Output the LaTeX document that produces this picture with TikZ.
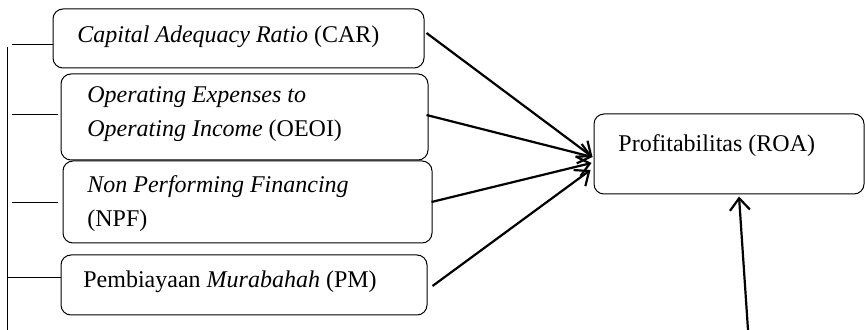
\documentclass[tikz,border=0pt]{standalone}
\usepackage{fontspec}
\setmainfont{Liberation Serif}
\usetikzlibrary{arrows.meta,calc}
\begin{document}
\begin{tikzpicture}[x=0.5pt,y=-0.5pt,
  box/.style={draw,rounded corners=5pt,line width=0.5pt,inner sep=0pt},
  lbl/.style={anchor=base west,inner sep=0pt,align=left,font=\fontsize{12}{17}\selectfont},
  link/.style={line width=0.5pt},
  arr/.style={line width=1.1pt,-{Straight Barb[length=6pt,width=10pt]}}]
\useasboundingbox (0,0) rectangle (865,330);
% boxes
\node[box,minimum width=185.5pt,minimum height=29.5pt] (car) at (238.5,38.5) {};
\node[box,minimum width=183.5pt,minimum height=43pt] (oeoi) at (244.5,117) {};
\node[box,minimum width=184.5pt,minimum height=41pt] (npf) at (247.5,202) {};
\node[box,minimum width=183pt,minimum height=30pt] (pm) at (244,285) {};
\node[box,minimum width=135pt,minimum height=40pt] (roa) at (729,154) {};
% texts
\node[lbl] (tcar) at (77,43) {\textit{Capital Adequacy Ratio} (CAR)};
\node[lbl] (toeoi) at (87,137) {\textit{Operating Expenses to}\\\textit{Operating Income} (OEOI)};
\node[lbl] (tnpf) at (87,227) {\textit{Non Performing Financing}\\(NPF)};
\node[lbl] (tpm) at (83,288) {Pembiayaan \textit{Murabahah} (PM)};
\node[lbl] (troa) at (618,152) {Profitabilitas (ROA)};
% bracket
\coordinate (btop) at (7,47);
\coordinate (bbot) at (7,330);
\coordinate (h1) at (12,45);
\coordinate (h2) at (12,115);
\coordinate (h3) at (12,203);
\coordinate (h4) at (7,278);
\draw[link] (btop) -- (bbot);
\draw[link] (h1) -- (h1 -| car.west);
\draw[link] (h2) -- ($(h2 -| oeoi.west)+(-3,0)$);
\draw[link] (h3) -- ($(h3 -| npf.west)+(-5,0)$);
\draw[link] (h4) -- (h4 -| pm.west);
% arrows
\draw[arr] ($(car.east)+(2,-5.5)$) -- ($(roa.west)+(-1,3)$);
\draw[arr] ($(oeoi.east)+(-2,-2)$) -- ($(roa.west)+(-1,3)$);
\draw[arr] ($(npf.east)+(-1,0)$) -- ($(roa.west)+(-2,9)$);
\draw[arr] ($(pm.east)+(5,1)$) -- ($(roa.west)+(-3,16)$);
\coordinate (bstart) at (748,330);
\draw[arr] (bstart) -- ($(roa.south)+(10,2)$);
\end{tikzpicture}
\end{document}
